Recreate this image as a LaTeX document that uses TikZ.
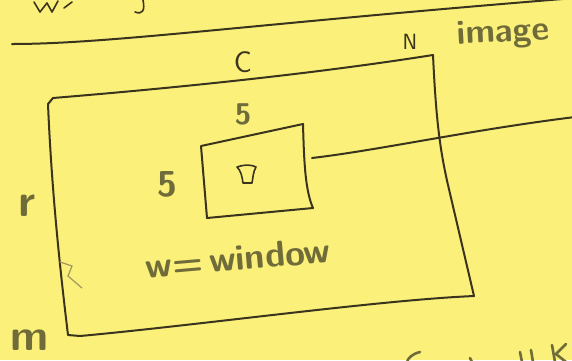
\documentclass[tikz,border=0pt]{standalone}
\definecolor{paper}{RGB}{251,240,122}
\definecolor{inkc}{RGB}{58,52,30}
\definecolor{labc}{RGB}{112,108,58}
\definecolor{faint}{RGB}{160,150,95}
\begin{document}
\begin{tikzpicture}[x=1pt,y=-1pt,
  ink/.style={draw=inkc,line width=2pt,line cap=round,line join=round},
  thinink/.style={draw=labc,line width=2.6pt,line cap=round,line join=round},
  lab/.style={text=labc,font=\sffamily,inner sep=0pt}]
\fill[paper] (0,0) rectangle (572,360);
\useasboundingbox (0,0) rectangle (572,360);
\clip (0,0) rectangle (572,360);
% top rule and cut-off scribbles
\draw[ink] (12,44) .. controls (110,44) and (250,24) .. (575,-2);
\draw[ink,line width=1.6pt] (34,2) -- (40,12) -- (47,3) -- (52,12) -- (58,1) (64,8) -- (72,2);
\draw[ink,line width=1.6pt] (143,0) .. controls (145,10) and (143,15) .. (135,12);
% big rectangle (image)
\coordinate (TL) at (48,104);
\coordinate (TR) at (433,55);
\coordinate (BR) at (474,296);
\coordinate (BL) at (68,335);
\draw[ink] (TL) -- (53,98) .. controls (150,90) and (300,76) .. (TR)
  .. controls (436,120) and (440,150) .. (448,185) -- (BR)
  .. controls (380,300) and (200,325) .. (80,336) -- (BL)
  .. controls (62,285) and (52,200) .. (TL);
% faint mark on left edge
\draw[draw=faint,line width=1.2pt,line cap=round] (60,262) -- (72,266) -- (68,276) -- (82,288);
% small window box
\coordinate (wTL) at (201,146);
\coordinate (wTR) at (303,124);
\coordinate (wBR) at (313,208);
\coordinate (wBL) at (207,218);
\draw[ink] (wTL) -- (wTR) .. controls (304,160) and (305,190) .. (wBR) -- (wBL) -- (wTL);
% centre pixel mark
\draw[ink,line width=1.6pt] (237,167) .. controls (246,164) and (252,165) .. (256,167)
  .. controls (253,172) and (253,178) .. (252,183) -- (243,183)
  .. controls (242,176) and (241,171) .. (237,167);
% connector line from window
\coordinate (wR) at (312,158);
\coordinate (lineEnd) at (575,117);
\draw[ink] (wR) .. controls (380,150) and (470,130) .. (lineEnd);
% labels
\node[lab,text=inkc,font=\sffamily\fontsize{30}{30}\selectfont] (lC) at (243,62) {C};
\node[lab,text=inkc,font=\sffamily\fontsize{22}{22}\selectfont] (lN) at (410,42) {N};
\node[lab,font=\sffamily\bfseries\fontsize{34}{34}\selectfont,rotate=3] (limg) at (503,34) {image};
\node[lab,font=\sffamily\bfseries\fontsize{30}{30}\selectfont] (l5t) at (243,114) {5};
\node[lab,font=\sffamily\bfseries\fontsize{36}{36}\selectfont] (l5l) at (167,184) {5};
\node[lab,font=\sffamily\bfseries\fontsize{46}{46}\selectfont] (lr) at (27,206) {r};
\node[lab,font=\sffamily\bfseries\fontsize{44}{44}\selectfont] (lm) at (30,340) {m};
\node[lab,font=\sffamily\bfseries\fontsize{36}{36}\selectfont,rotate=5] (lw) at (238,258) {w=\,window};
% cut-off text at bottom right
\draw[thinink] (420,352) .. controls (412,354) and (408,358) .. (407,362);
\draw[thinink] (470,358) -- (472,362);
\draw[thinink] (520,352) -- (522,362) (531,350) -- (533,362);
\draw[thinink] (552,345) -- (555,362) (566,344) -- (556,354) -- (566,362);
\end{tikzpicture}
\end{document}
